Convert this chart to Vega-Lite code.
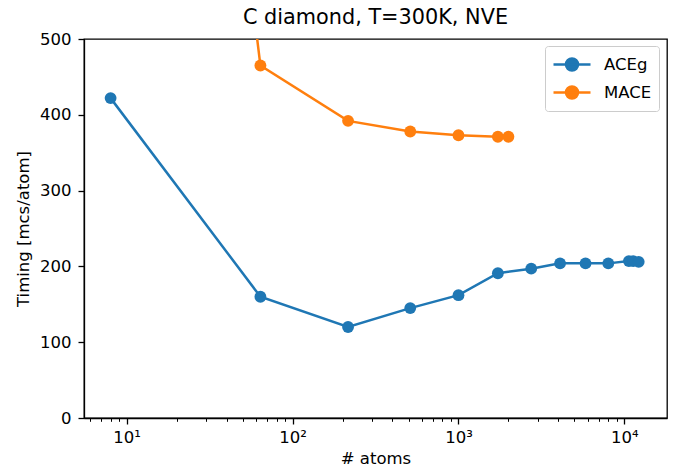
{
  "$schema": "https://vega.github.io/schema/vega-lite/v6.json",
  "width": 583,
  "height": 379,
  "autosize": {"type": "none"},
  "padding": {"left": 84, "top": 39, "right": 6, "bottom": 57},
  "background": "white",
  "title": {
    "text": "C diamond, T=300K, NVE",
    "font": "DejaVu Sans",
    "fontSize": 20.8,
    "fontWeight": "normal",
    "color": "black",
    "anchor": "middle",
    "frame": "group",
    "baseline": "alphabetic",
    "offset": 11,
    "dy": 25
  },
  "config": {
    "view": {"stroke": "black", "strokeWidth": 1.3},
    "axis": {
      "labelFont": "DejaVu Sans",
      "titleFont": "DejaVu Sans",
      "labelFontSize": 16.5,
      "titleFontSize": 16.5,
      "titleFontWeight": "normal",
      "labelColor": "black",
      "titleColor": "black",
      "domainColor": "black",
      "tickColor": "black",
      "domainWidth": 1.3,
      "grid": false
    },
    "legend": {
      "labelFont": "DejaVu Sans",
      "labelFontSize": 16.5,
      "labelColor": "black"
    }
  },
  "data": {
    "values": [
      {"n": 8, "t": 422, "model": "ACEg"},
      {"n": 64, "t": 160, "model": "ACEg"},
      {"n": 216, "t": 120, "model": "ACEg"},
      {"n": 512, "t": 145, "model": "ACEg"},
      {"n": 1000, "t": 162, "model": "ACEg"},
      {"n": 1728, "t": 191, "model": "ACEg"},
      {"n": 2744, "t": 197, "model": "ACEg"},
      {"n": 4096, "t": 204, "model": "ACEg"},
      {"n": 5832, "t": 204, "model": "ACEg"},
      {"n": 8000, "t": 204, "model": "ACEg"},
      {"n": 10648, "t": 207, "model": "ACEg"},
      {"n": 11300, "t": 207, "model": "ACEg"},
      {"n": 12200, "t": 206, "model": "ACEg"},
      {"n": 8, "t": 2080, "model": "MACE"},
      {"n": 64, "t": 465, "model": "MACE"},
      {"n": 216, "t": 392, "model": "MACE"},
      {"n": 512, "t": 378, "model": "MACE"},
      {"n": 1000, "t": 373, "model": "MACE"},
      {"n": 1728, "t": 371, "model": "MACE"},
      {"n": 2000, "t": 371, "model": "MACE"}
    ]
  },
  "encoding": {
    "x": {
      "field": "n",
      "type": "quantitative",
      "scale": {"type": "log", "domain": [5.53, 18070], "nice": false},
      "axis": {
        "title": "# atoms",
        "titlePadding": 5,
        "values": [6, 7, 8, 9, 10, 20, 30, 40, 50, 60, 70, 80, 90, 100, 200, 300, 400, 500, 600, 700, 800, 900, 1000, 2000, 3000, 4000, 5000, 6000, 7000, 8000, 9000, 10000],
        "labelExpr": "datum.value == 10 ? '10¹' : datum.value == 100 ? '10²' : datum.value == 1000 ? '10³' : datum.value == 10000 ? '10⁴' : ''",
        "labelOverlap": false,
        "labelFlush": false,
        "labelPadding": 5,
        "tickSize": {"condition": {"test": "datum.value == 10 || datum.value == 100 || datum.value == 1000 || datum.value == 10000", "value": 6}, "value": 3.3},
        "tickWidth": {"condition": {"test": "datum.value == 10 || datum.value == 100 || datum.value == 1000 || datum.value == 10000", "value": 1.3}, "value": 1}
      }
    },
    "y": {
      "field": "t",
      "type": "quantitative",
      "scale": {"domain": [0, 500], "nice": false, "zero": false},
      "axis": {
        "title": "Timing [mcs/atom]",
        "values": [0, 100, 200, 300, 400, 500],
        "tickSize": 6,
        "tickWidth": 1.3,
        "labelPadding": 7,
        "titlePadding": 8
      }
    },
    "color": {
      "field": "model",
      "type": "nominal",
      "scale": {"domain": ["ACEg", "MACE"], "range": ["#1f77b4", "#ff7f0e"]},
      "legend": {
        "title": null,
        "orient": "none",
        "legendX": 461,
        "legendY": 7,
        "symbolType": "M-1.85,0H1.85M0.6,0A0.6,0.6,0,1,1,-0.6,0A0.6,0.6,0,1,1,0.6,0",
        "symbolSize": 400,
        "symbolStrokeWidth": 2.5,
        "symbolOffset": 8.5,
        "rowPadding": 5,
        "labelOffset": 20.5,
        "padding": 7,
        "strokeColor": "#cccccc",
        "fillColor": "white",
        "cornerRadius": 3
      }
    }
  },
  "layer": [
    {"mark": {"type": "line", "strokeWidth": 2.5, "clip": true}},
    {"mark": {"type": "point", "filled": true, "size": 140, "opacity": 1, "clip": true}}
  ]
}
